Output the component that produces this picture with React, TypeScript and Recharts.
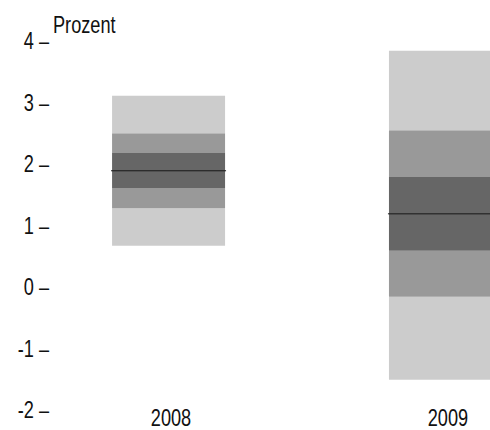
import { ComposedChart, Bar, XAxis, YAxis } from 'recharts';

// Prognoseband (Fächer) je Jahr, Werte in Prozent
const years = [2008, 2009];
const low95 = [0.67, -1.51];
const low80 = [1.28, -0.16];
const low65 = [1.61, 0.59];
const median = [1.89, 1.19];
const high65 = [2.18, 1.79];
const high80 = [2.5, 2.55];
const high95 = [3.11, 3.84];
const yTicks = [-2, -1, 0, 1, 2, 3, 4];

const LIGHT = '#cccccc';
const MID = '#999999';
const DARK = '#666666';
const FONT = "'Liberation Sans', Arial, sans-serif";
const FS = 23;
const SQUEEZE = 0.79; // no narrow font installed, so squeeze horizontally
const AXIS_W = 50;
const TOP = 41;

// stacked segments: invisible base, then band widths
const data = years.map((year, i) => ({
  year,
  base: low95[i],
  lightLow: low80[i] - low95[i],
  midLow: low65[i] - low80[i],
  darkLow: median[i] - low65[i],
  darkHigh: high65[i] - median[i],
  midHigh: high80[i] - high65[i],
  lightHigh: high95[i] - high80[i],
}));

const NarrowText = ({ x, y, anchor, children }: any) => (
  <g transform={`translate(${x},${y}) scale(${SQUEEZE},1)`}>
    <text x={0} y={0} textAnchor={anchor} fontFamily={FONT} fontSize={FS} fill="#111">
      {children}
    </text>
  </g>
);

// upper dark band also draws the median line at its lower edge
const MedianShape = (props: any) => {
  const { x, y, width, height } = props;
  const yb = y + height;
  return (
    <g>
      <rect x={x} y={y} width={width} height={height} fill={DARK} />
      <line x1={x - 1} x2={x + width + 1} y1={yb} y2={yb} stroke="#111" strokeWidth={1} />
    </g>
  );
};

const YTick = (props: any) => {
  const { y, payload } = props;
  return <NarrowText x={AXIS_W - 1} y={y + 8} anchor="end">{`${payload.value} –`}</NarrowText>;
};

const XTick = (props: any) => {
  const { x, y, payload } = props;
  return <NarrowText x={x + 2.5} y={y + 8} anchor="middle">{payload.value}</NarrowText>;
};

export default function App() {
  return (
    <div style={{ position: 'fixed', left: 0, top: 0, width: 490, height: 430, overflow: 'hidden', background: '#fff' }}>
      <ComposedChart width={490} height={430} data={data} margin={{ top: TOP, right: 0, bottom: 0, left: 0 }}>
        <XAxis
          type="number"
          dataKey="year"
          domain={[2007.572, 2009.161]}
          ticks={years}
          axisLine={false}
          tickLine={false}
          tick={<XTick />}
          height={20}
          allowDataOverflow
        />
        <YAxis
          type="number"
          domain={[-2, 4]}
          ticks={yTicks}
          width={AXIS_W}
          axisLine={false}
          tickLine={false}
          tick={<YTick />}
        />
        <Bar dataKey="base" stackId="f" fill="transparent" barSize={113} isAnimationActive={false} />
        <Bar dataKey="lightLow" stackId="f" fill={LIGHT} barSize={113} isAnimationActive={false} />
        <Bar dataKey="midLow" stackId="f" fill={MID} barSize={113} isAnimationActive={false} />
        <Bar dataKey="darkLow" stackId="f" fill={DARK} barSize={113} isAnimationActive={false} />
        <Bar dataKey="darkHigh" stackId="f" fill={DARK} barSize={113} shape={<MedianShape />} isAnimationActive={false} />
        <Bar dataKey="midHigh" stackId="f" fill={MID} barSize={113} isAnimationActive={false} />
        <Bar dataKey="lightHigh" stackId="f" fill={LIGHT} barSize={113} isAnimationActive={false} />
      </ComposedChart>
      {/* unit label above the value axis */}
      <svg width={490} height={60} style={{ position: 'absolute', left: 0, top: 0, pointerEvents: 'none' }}>
        <NarrowText x={AXIS_W + 3} y={TOP - 8} anchor="start">Prozent</NarrowText>
      </svg>
    </div>
  );
}
